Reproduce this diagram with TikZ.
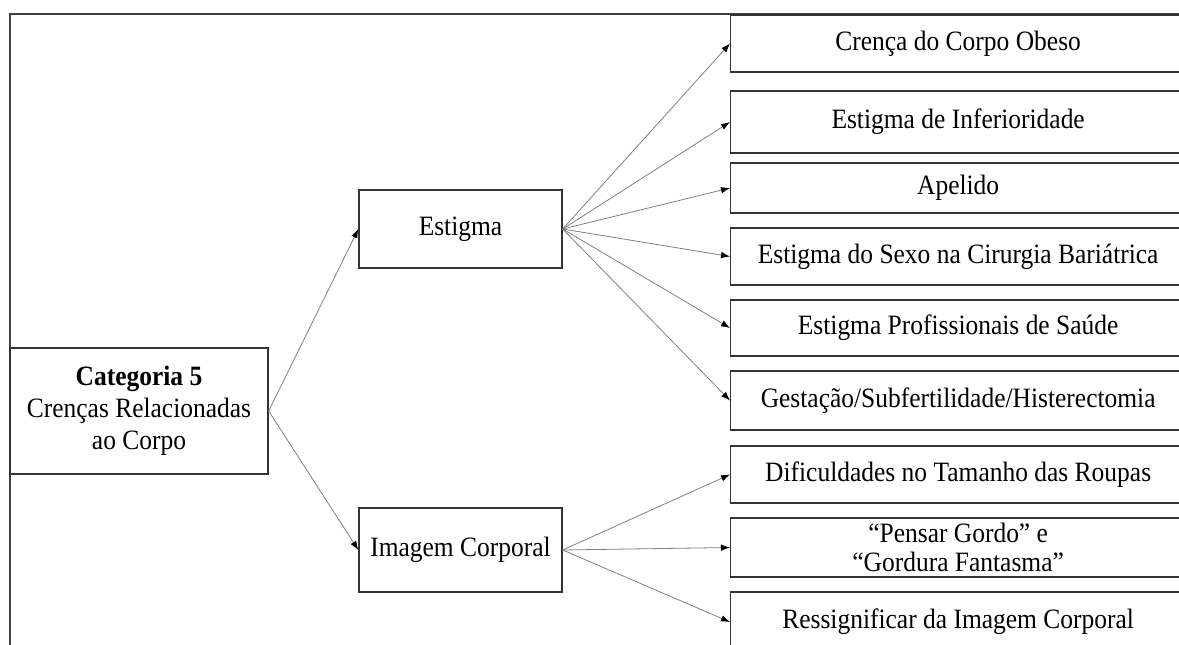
\documentclass[tikz,border=0pt]{standalone}
\usepackage{fontspec}
\setmainfont{Liberation Serif}[FakeStretch=0.91]
\usetikzlibrary{arrows.meta}
\begin{document}
\begin{tikzpicture}[x=1pt,y=-1pt,
  box/.style={draw=black!80, line width=1.3pt, inner sep=0pt, align=center,
              font=\fontsize{28}{32}\selectfont},
  midbox/.style={box, minimum width=203pt, minimum height=78pt},
  leafbox/.style={box, anchor=west, minimum width=455pt},
  link/.style={draw=black!50, line width=0.8pt, -{Latex[length=9pt,width=6.5pt,black]}}
]
\useasboundingbox (0,0) rectangle (1179,645);
\clip (0,0) rectangle (1179,645);

% outer frame
\draw[draw=black!75, line width=1.5pt] (10,670) -- (10,14) -- (1200,14);

% root category
\node[box, minimum width=258pt, minimum height=126pt] (cat) at (139,411)
  {\textbf{Categoria 5}\\Crenças Relacionadas\\ao Corpo};

% subcategories
\node[midbox] (est) at (460.5,229) {Estigma};
\node[midbox, minimum height=84pt] (img) at (460.5,550) {Imagem Corporal};

% leaves of Estigma
\node[leafbox, minimum height=57pt] (e1) at (730,43.5) {Crença do Corpo Obeso};
\node[leafbox, minimum height=62pt] (e2) at (730,122) {Estigma de Inferioridade};
\node[leafbox, minimum height=50pt] (e3) at (730,188) {Apelido};
\node[leafbox, minimum height=57pt] (e4) at (730,256.5) {Estigma do Sexo na Cirurgia Bariátrica};
\node[leafbox, minimum height=56pt] (e5) at (730,328) {Estigma Profissionais de Saúde};
\node[leafbox, minimum height=59pt] (e6) at (730,400.5) {Gestação/Subfertilidade/Histerectomia};

% leaves of Imagem Corporal
\node[leafbox, minimum height=57pt] (i1) at (730,474.5) {Dificuldades no Tamanho das Roupas};
\node[leafbox, minimum height=59pt, font=\fontsize{28}{29}\selectfont] (i2) at (730,547.5)
  {“Pensar Gordo” e\\“Gordura Fantasma”};
\node[leafbox, minimum height=60pt] (i3) at (730,622) {Ressignificar da Imagem Corporal};

% connectors
\draw[link] (cat.east) -- (est.west);
\draw[link] (cat.east) -- (img.west);
\foreach \n in {e1,e2,e3,e4,e5,e6} \draw[link] (est.east) -- (\n.west);
\foreach \n in {i1,i2,i3} \draw[link] (img.east) -- (\n.west);
\end{tikzpicture}
\end{document}
